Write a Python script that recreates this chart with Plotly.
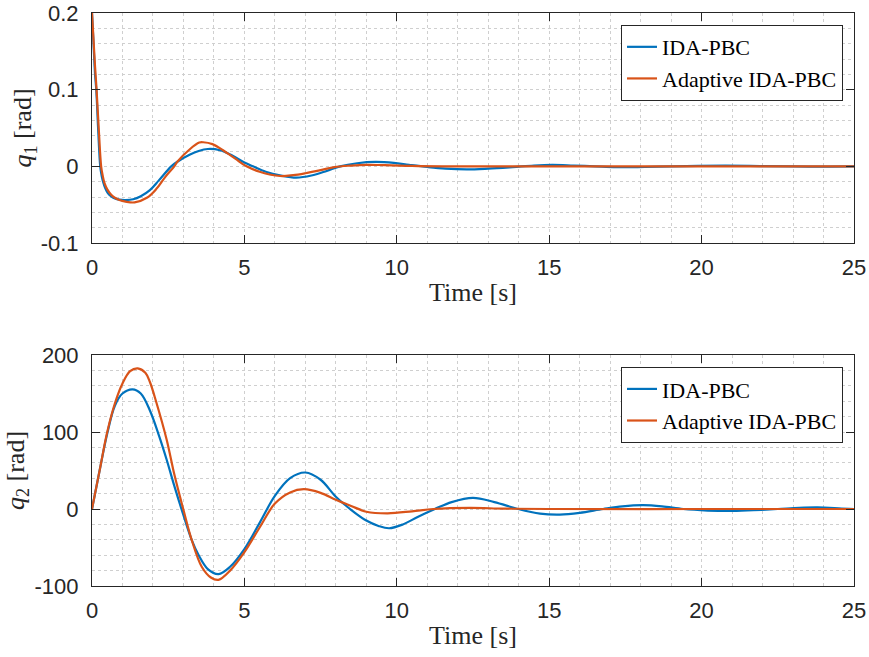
import plotly.graph_objects as go
from plotly.subplots import make_subplots

# ---- data ----
t_q1_ida = [0, 0.05, 0.1, 0.14, 0.2, 0.27, 0.32, 0.37, 0.43, 0.52, 0.62, 0.75, 0.9, 1.1, 1.35,
            1.6, 1.9, 2.2, 2.6, 2.8, 3.2, 3.5, 3.8, 4.2, 4.6, 5.0, 5.28, 5.7, 6.2, 6.7, 7.2,
            7.7, 8.14, 8.7, 9.3, 9.9, 10.4, 11.0, 11.6, 12.3, 13.0, 13.8, 14.5, 15.1, 15.8,
            16.5, 17.2, 17.9, 18.6, 19.5, 20.8, 22.0, 23.5, 25.0]
q1_ida = [0.2, 0.16, 0.12, 0.1, 0.05, 0.0, -0.013, -0.021, -0.028, -0.035, -0.039, -0.042,
          -0.0435, -0.044, -0.043, -0.039, -0.031, -0.018, 0.0, 0.006, 0.015, 0.02, 0.0226,
          0.021, 0.014, 0.005, 0.0, -0.007, -0.012, -0.0147, -0.012, -0.006, 0.0, 0.004,
          0.0057, 0.0045, 0.002, -0.0008, -0.003, -0.004, -0.003, -0.001, 0.001, 0.0018,
          0.001, 0.0, -0.001, -0.001, -0.0005, 0.0003, 0.0008, 0.0003, -0.0003, 0.0]

t_q1_ada = [0, 0.05, 0.1, 0.15, 0.22, 0.3, 0.35, 0.41, 0.5, 0.63, 0.75, 0.9, 1.1, 1.4, 1.8,
            2.1, 2.4, 2.7, 2.8, 3.2, 3.52, 3.65, 3.95, 4.3, 4.7, 5.07, 5.5, 6.17, 6.6, 7.0,
            7.5, 7.95, 8.5, 9.0, 9.6, 10.5, 11.5, 13.0, 15.0, 18.0, 21.0, 25.0]
q1_ada = [0.2, 0.165, 0.13, 0.1, 0.05, 0.0, -0.012, -0.022, -0.03, -0.037, -0.041, -0.044,
          -0.046, -0.047, -0.041, -0.03, -0.014, 0.0, 0.006, 0.022, 0.031, 0.0314, 0.029,
          0.021, 0.01, 0.0, -0.007, -0.0126, -0.0115, -0.009, -0.005, -0.001, 0.001, 0.002,
          0.0015, 0.0005, 0.0, 0.0, 0.0, 0.0, 0.0, 0.0]

t_q2_ida = [0, 0.25, 0.5, 0.75, 1.0, 1.33, 1.6, 1.9, 2.2, 2.45, 2.7, 3.0, 3.27, 3.5, 3.8,
            4.15, 4.53, 5.0, 5.5, 6.0, 6.5, 7.0, 7.5, 8.0, 8.5, 9.0, 9.4, 9.75, 10.2, 10.7,
            11.25, 11.8, 12.5, 13.2, 13.98, 14.7, 15.35, 16.0, 16.77, 17.4, 18.08, 18.7,
            19.4, 20.2, 20.9, 21.7, 22.5, 23.2, 23.8, 24.5, 25.0]
q2_ida = [0, 50, 98, 134, 150, 155.5, 150, 128, 95, 64, 30, -8, -40, -60, -78, -84.5, -75,
          -52, -18, 17, 40, 47.4, 38, 16, -1, -15, -22, -25, -20, -10, 0, 9, 14.5, 9, 0, -6,
          -7.3, -5, 0, 3.5, 5, 3.5, 0, -2, -2.6, -1.5, 0, 1.5, 2, 1, 0]

t_q2_ada = [0, 0.25, 0.5, 0.75, 1.0, 1.25, 1.5, 1.75, 1.9, 2.1, 2.45, 2.7, 3.0, 3.27, 3.6,
            3.9, 4.15, 4.53, 5.0, 5.5, 6.0, 6.5, 6.95, 7.5, 8.0, 8.5, 9.0, 9.7, 10.5, 11.2,
            12.4, 13.5, 15.0, 20.0, 25.0]
q2_ada = [0, 50, 100, 137, 163, 179, 182.7, 177, 165, 140, 90, 45, -1, -40, -75, -89, -92,
          -80, -56, -24, 7, 21.5, 25.7, 21, 12, 4, -3.5, -5.6, -3, 0, 1.5, 0.5, 0, 0, 0]

x_ticks = [0, 5, 10, 15, 20, 25]
x_ticktext = ["0", "5", "10", "15", "20", "25"]
y1_ticks = [-0.1, 0, 0.1, 0.2]
y1_ticktext = ["-0.1", "0", "0.1", "0.2"]
y2_ticks = [-100, 0, 100, 200]
y2_ticktext = ["-100", "0", "100", "200"]
series_names = ["IDA-PBC", "Adaptive IDA-PBC"]

BLUE = "#0072BD"
ORANGE = "#D95319"
AX = "#262626"
GRID = "#cfcfcf"
SERIF = "Liberation Serif"
SANS = "Liberation Sans"
LW = 2.2

fig = make_subplots(rows=2, cols=1, vertical_spacing=0.195)

fig.add_trace(go.Scatter(x=t_q1_ida, y=q1_ida, mode="lines", name=series_names[0],
                         line=dict(color=BLUE, width=LW, shape="spline", smoothing=1.0),
                         legend="legend"), row=1, col=1)
fig.add_trace(go.Scatter(x=t_q1_ada, y=q1_ada, mode="lines", name=series_names[1],
                         line=dict(color=ORANGE, width=LW, shape="spline", smoothing=1.0),
                         legend="legend"), row=1, col=1)
fig.add_trace(go.Scatter(x=t_q2_ida, y=q2_ida, mode="lines", name=series_names[0],
                         line=dict(color=BLUE, width=LW, shape="spline", smoothing=1.0),
                         legend="legend2"), row=2, col=1)
fig.add_trace(go.Scatter(x=t_q2_ada, y=q2_ada, mode="lines", name=series_names[1],
                         line=dict(color=ORANGE, width=LW, shape="spline", smoothing=1.0),
                         legend="legend2"), row=2, col=1)

common_x = dict(range=[0, 25], tickvals=x_ticks, ticktext=x_ticktext, ticks="inside",
                ticklen=8, tickcolor=AX, showline=True, linecolor=AX, linewidth=1,
                mirror="ticks", showgrid=True, gridcolor=GRID, griddash="dot", gridwidth=1,
                zeroline=False, tickfont=dict(family=SANS, size=22, color=AX),
                ticklabelstandoff=5, ticklabeloverflow="allow",
                minor=dict(dtick=1, tick0=0, showgrid=True, gridcolor=GRID, griddash="dot",
                           gridwidth=1, ticks=""),
                title=dict(text="Time [s]", font=dict(family=SERIF, size=26, color=AX),
                           standoff=3))
fig.update_xaxes(**common_x, row=1, col=1)
fig.update_xaxes(**common_x, row=2, col=1)

common_y = dict(ticks="inside", ticklen=8, tickcolor=AX, showline=True, linecolor=AX,
                linewidth=1, mirror="ticks", showgrid=True, gridcolor=GRID, griddash="dot",
                gridwidth=1, zeroline=False, tickfont=dict(family=SANS, size=22, color=AX),
                ticklabelstandoff=8, ticklabeloverflow="allow")
fig.update_yaxes(**common_y, range=[-0.1, 0.2], tickvals=y1_ticks, ticktext=y1_ticktext,
                 minor=dict(dtick=0.02, tick0=0, showgrid=True, gridcolor=GRID,
                            griddash="dot", gridwidth=1, ticks=""),
                 title=dict(text="<i>q</i><sub>1</sub> [rad]",
                            font=dict(family=SERIF, size=26, color=AX), standoff=1),
                 row=1, col=1)
fig.update_yaxes(**common_y, range=[-100, 200], tickvals=y2_ticks, ticktext=y2_ticktext,
                 minor=dict(dtick=20, tick0=0, showgrid=True, gridcolor=GRID,
                            griddash="dot", gridwidth=1, ticks=""),
                 title=dict(text="<i>q</i><sub>2</sub> [rad]",
                            font=dict(family=SERIF, size=26, color=AX), standoff=2),
                 row=2, col=1)

legend_style = dict(xanchor="right", yanchor="top", bgcolor="white", bordercolor=AX,
                    borderwidth=1, font=dict(family=SERIF, size=22, color="black"),
                    tracegroupgap=0, itemwidth=30)

fig.update_layout(
    width=869, height=657,
    margin=dict(l=92, r=15, t=13, b=71, autoexpand=False),
    paper_bgcolor="white", plot_bgcolor="white",
    showlegend=True,
    legend=dict(x=0.9856, y=0.979, **legend_style),
    legend2=dict(x=0.9856, y=0.382, **legend_style),
)
fig.update_layout(yaxis=dict(domain=[0.5986, 1.0]), yaxis2=dict(domain=[0.0, 0.4031]))

# remove the default 8px body margin so the figure fills the window exactly
fig.write_html("out.html", config={"displayModeBar": False},
               post_script="document.body.style.margin='0';")
